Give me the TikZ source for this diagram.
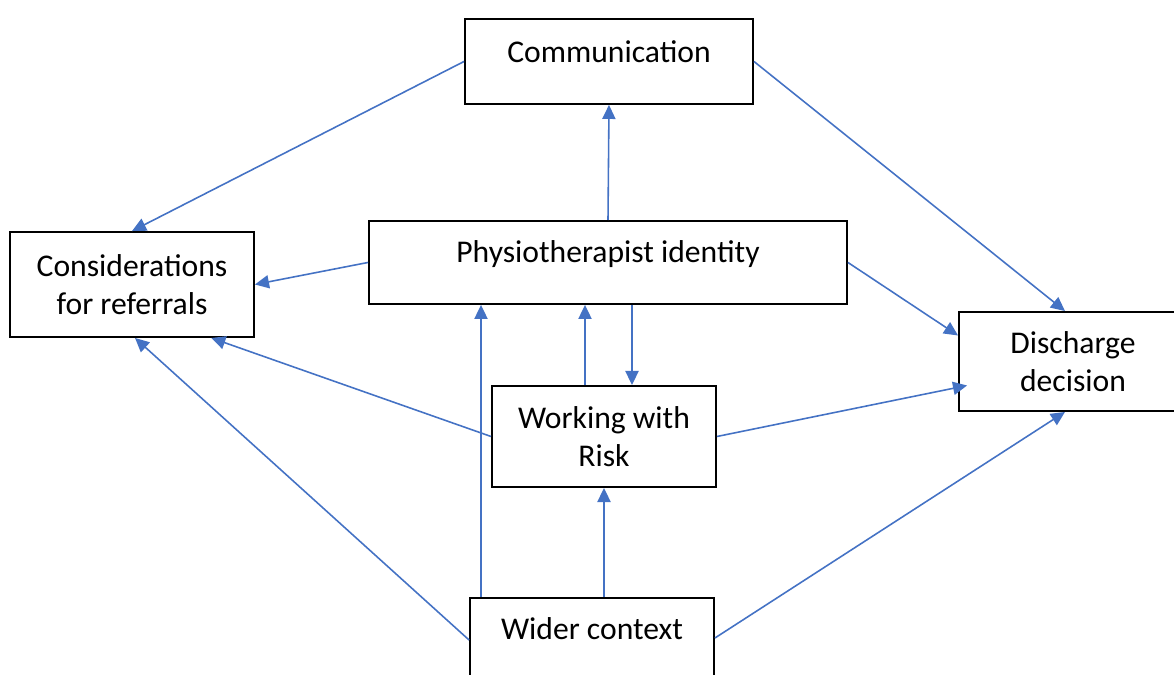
\documentclass[tikz,border=0pt]{standalone}
\usepackage{fontspec}
\setmainfont{Carlito}
\usepackage{xcolor}
\usetikzlibrary{arrows.meta,calc}

\definecolor{linkblue}{HTML}{4472C4}

\begin{document}
\begin{tikzpicture}[x=0.02cm,y=-0.02cm,
	box/.style={draw=black, line width=1.1pt, fill=white, align=center, inner sep=0pt,
		font=\fontsize{18}{21.6}\selectfont},
	link/.style={draw=linkblue, line width=0.9pt, -{Triangle[length=8pt,width=7.5pt]}}]

\useasboundingbox (0,0) rectangle (1174,675);

\node[box, anchor=north, minimum width=5.76cm, text height=0.88cm, text depth=0.82cm] (comm) at (609,18) {Communication};
\node[box, anchor=north, minimum width=9.56cm, text height=0.84cm, text depth=0.82cm] (phys) at (608,220) {Physiotherapist identity};
\node[box, minimum width=4.88cm, minimum height=2.1cm] (cons) at (132,284.5) {Considerations\\for referrals};
\node[box, minimum width=4.56cm, minimum height=1.98cm] (disc) at (1073,361.5) {Discharge\\decision};
\node[box, minimum width=4.48cm, minimum height=2.02cm] (risk) at (604,436.5) {Working with\\Risk};
\node[box, anchor=north, minimum width=4.88cm, text height=0.84cm, text depth=1.6cm] (wider) at (592,597) {Wider context};

\coordinate (riskup) at ($(risk.north)+(-19,0)$);
\coordinate (riskdown) at ($(risk.north)+(28,0)$);
\coordinate (widerup) at ($(wider.north)+(-111,0)$);

% from communication
\draw[link] (comm.west) -- (cons.north);
\draw[link] (comm.east) -- ($(disc.north)+(-8,0)$);

% from physiotherapist identity
\draw[link] (phys.north) -- (comm.south);
\draw[link] (phys.west) -- (cons.east);
\draw[link] (phys.east) -- ($(disc.west)+(0,-26)$);
\draw[link] (riskdown |- phys.south) -- (riskdown);

% from working with risk
\draw[link] (riskup) -- (riskup |- phys.south);
\draw[link] (risk.west) -- (cons.-34.6);
\draw[link] (risk.east) -- ($(disc.west)+(9,24)$);

% from wider context
\draw[link] (risk.south |- wider.north) -- (risk.south);
\draw[link] (widerup) -- (widerup |- phys.south);
\draw[link] ($(wider.north west)+(0,43)$) -- ($(cons.south)+(3,0)$);
\draw[link] ($(wider.north east)+(0,41)$) -- ($(disc.south)+(-8,0)$);

\end{tikzpicture}
\end{document}
